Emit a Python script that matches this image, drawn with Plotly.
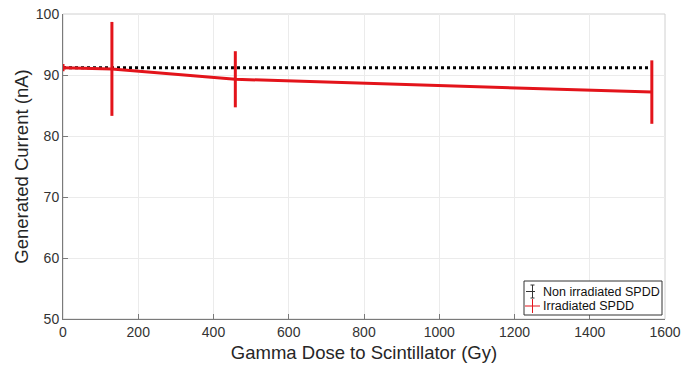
import plotly.graph_objects as go

dose_non = [0, 130, 458, 1565]
current_non = [91.2, 91.2, 91.2, 91.2]
err_non = [0.1, 0.1, 0.1, 0.1]

dose_irr = [0, 130, 458, 1565]
current_irr = [91.2, 91.0, 89.3, 87.2]
err_irr = [0.6, 7.7, 4.6, 5.2]

x_ticks = [0, 200, 400, 600, 800, 1000, 1200, 1400, 1600]
y_ticks = [50, 60, 70, 80, 90, 100]

legend_names = ["Non irradiated SPDD", "Irradiated SPDD"]

RED = "#e3141b"
W, H = 681, 365
L, R, T, B = 63, 16, 14, 46
pw, ph = W - L - R, H - T - B


def px(xp):
    return (xp - L) / pw


def py(yp):
    return (H - B - yp) / ph


fig = go.Figure()
fig.add_trace(go.Scatter(
    x=dose_non, y=current_non, mode="lines", name=legend_names[0],
    line=dict(color="black", width=3, dash="dot"),
    error_y=dict(type="data", array=err_non, color="black", thickness=1, width=0),
    showlegend=False,
))
fig.add_trace(go.Scatter(
    x=dose_irr, y=current_irr, mode="lines", name=legend_names[1],
    line=dict(color=RED, width=3),
    error_y=dict(type="data", array=err_irr, color=RED, thickness=3, width=0),
    showlegend=False,
))

shapes = [
    # light top/right frame
    dict(type="rect", xref="paper", yref="paper", x0=0, x1=1, y0=0, y1=1,
         line=dict(color="#d0d0d0", width=1), layer="below"),
    # manual legend (MATLAB style)
    dict(type="rect", xref="paper", yref="paper", x0=px(524), x1=px(662), y0=py(315), y1=py(281),
         line=dict(color="#333333", width=1), fillcolor="white", layer="above"),
    dict(type="line", xref="paper", yref="paper", x0=px(526), x1=px(539), y0=py(291.5), y1=py(291.5),
         line=dict(color="#333333", width=1, dash="dash"), layer="above"),
    dict(type="line", xref="paper", yref="paper", x0=px(532.5), x1=px(532.5), y0=py(285), y1=py(298),
         line=dict(color="#333333", width=1), layer="above"),
    dict(type="line", xref="paper", yref="paper", x0=px(530.5), x1=px(534.5), y0=py(285), y1=py(285),
         line=dict(color="#333333", width=1), layer="above"),
    dict(type="line", xref="paper", yref="paper", x0=px(530.5), x1=px(534.5), y0=py(298), y1=py(298),
         line=dict(color="#333333", width=1), layer="above"),
    dict(type="line", xref="paper", yref="paper", x0=px(525), x1=px(540), y0=py(306), y1=py(306),
         line=dict(color=RED, width=1), layer="above"),
    dict(type="line", xref="paper", yref="paper", x0=px(532.5), x1=px(532.5), y0=py(299), y1=py(313),
         line=dict(color=RED, width=1), layer="above"),
]
annotations = [
    dict(text=legend_names[0], xref="paper", yref="paper", x=px(541), y=py(291.5),
         xanchor="left", yanchor="middle", showarrow=False,
         font=dict(size=12.5, color="#111111", family="Liberation Sans, Arial, sans-serif")),
    dict(text=legend_names[1], xref="paper", yref="paper", x=px(541), y=py(306),
         xanchor="left", yanchor="middle", showarrow=False,
         font=dict(size=12.5, color="#111111", family="Liberation Sans, Arial, sans-serif")),
]

fig.update_layout(
    width=W, height=H,
    margin=dict(l=L, r=R, t=T, b=B, autoexpand=False),
    paper_bgcolor="white", plot_bgcolor="white",
    font=dict(family="Liberation Sans, Arial, sans-serif", color="#262626"),
    showlegend=False,
    shapes=shapes,
    annotations=annotations,
)
fig.update_xaxes(
    range=[0, 1600], tickvals=x_ticks,
    showgrid=True, gridcolor="#ebebeb", gridwidth=1,
    showline=True, linecolor="#7a7a7a", linewidth=1, mirror=False,
    ticks="inside", ticklen=5, tickcolor="#7a7a7a",
    tickfont=dict(size=14, color="#333333"), ticklabeloverflow="allow",
    title=dict(text="Gamma Dose to Scintillator (Gy)", font=dict(size=18.5, color="#262626"), standoff=7),
    zeroline=False, automargin=False,
)
fig.update_yaxes(
    range=[50, 100], tickvals=y_ticks,
    showgrid=True, gridcolor="#ebebeb", gridwidth=1,
    showline=True, linecolor="#7a7a7a", linewidth=1, mirror=False,
    ticks="inside", ticklen=5, tickcolor="#7a7a7a",
    tickfont=dict(size=14, color="#333333"), ticklabeloverflow="allow",
    title=dict(text="Generated Current (nA)", font=dict(size=18.5, color="#262626"), standoff=2),
    zeroline=False, automargin=False,
)
fig.write_html("out.html", config={"displayModeBar": False},
               post_script="document.body.style.margin='0';")
